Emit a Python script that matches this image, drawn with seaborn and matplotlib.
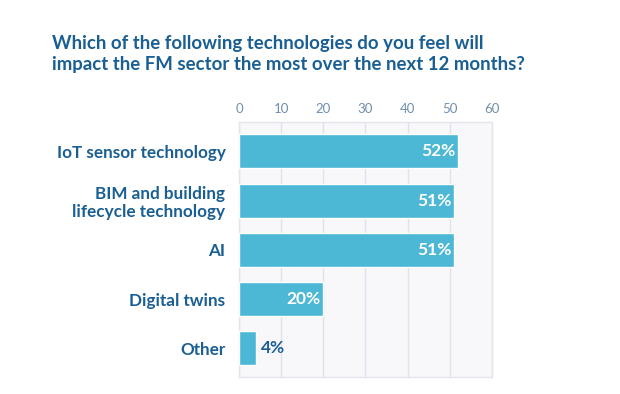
import matplotlib
matplotlib.use("Agg")
import matplotlib.pyplot as plt
import seaborn as sns
import pandas as pd

# data
categories = ["IoT sensor technology", "BIM and building\nlifecycle technology",
              "AI", "Digital twins", "Other"]
values = [52, 51, 51, 20, 4]
x_ticks = [0, 10, 20, 30, 40, 50, 60]

BAR = "#4db8d5"
DARK = "#1a5f93"
TICK = "#6f8fae"

sns.set_theme(style="white")
plt.rcParams['font.family'] = ['Lato', 'DejaVu Sans']

df = pd.DataFrame({"tech": categories, "pct": values})

fig = plt.figure(figsize=(6.2, 3.94), dpi=100)
ax = fig.add_axes([0.386, 0.043, 0.407, 0.647])

sns.barplot(data=df, x="pct", y="tech", order=categories, color=BAR,
            saturation=1, width=0.69, ax=ax, zorder=3)

ax.set_facecolor("#f8f8fa")
ax.set_xlim(0, 60)
ax.set_ylim(4.58, -0.59)
ax.set_xticks(x_ticks)
ax.xaxis.tick_top()
ax.tick_params(axis="x", length=0, pad=5, labelsize=9.5, labelcolor=TICK)
ax.tick_params(axis="y", length=0, pad=10, labelsize=12.3, labelcolor=DARK)
for lab in ax.get_yticklabels():
    lab.set_fontweight("bold")
    lab.set_multialignment("right")
    lab.set_linespacing(1.15)
ax.grid(axis="x", color="#dfe1ec", linewidth=1.0, zorder=0)
for s in ax.spines.values():
    s.set_color("#e3e5ee")
    s.set_linewidth(1.0)
ax.set_xlabel("")
ax.set_ylabel("")

# value labels
for i, v in enumerate(values):
    if v >= 10:
        ax.text(v - 0.6, i, f"{v}%", ha="right", va="center", color="white",
                fontsize=12.5, fontweight="bold", zorder=4)
    else:
        ax.text(v + 1.2, i, f"{v}%", ha="left", va="center", color=DARK,
                fontsize=12.5, fontweight="bold", zorder=4)

fig.text(0.084, 0.862, "Which of the following technologies do you feel will\n"
         "impact the FM sector the most over the next 12 months?",
         ha="left", va="center", color=DARK, fontsize=13.4, fontweight="bold",
         linespacing=1.3)

fig.savefig("out.png", dpi=100, facecolor="white")
